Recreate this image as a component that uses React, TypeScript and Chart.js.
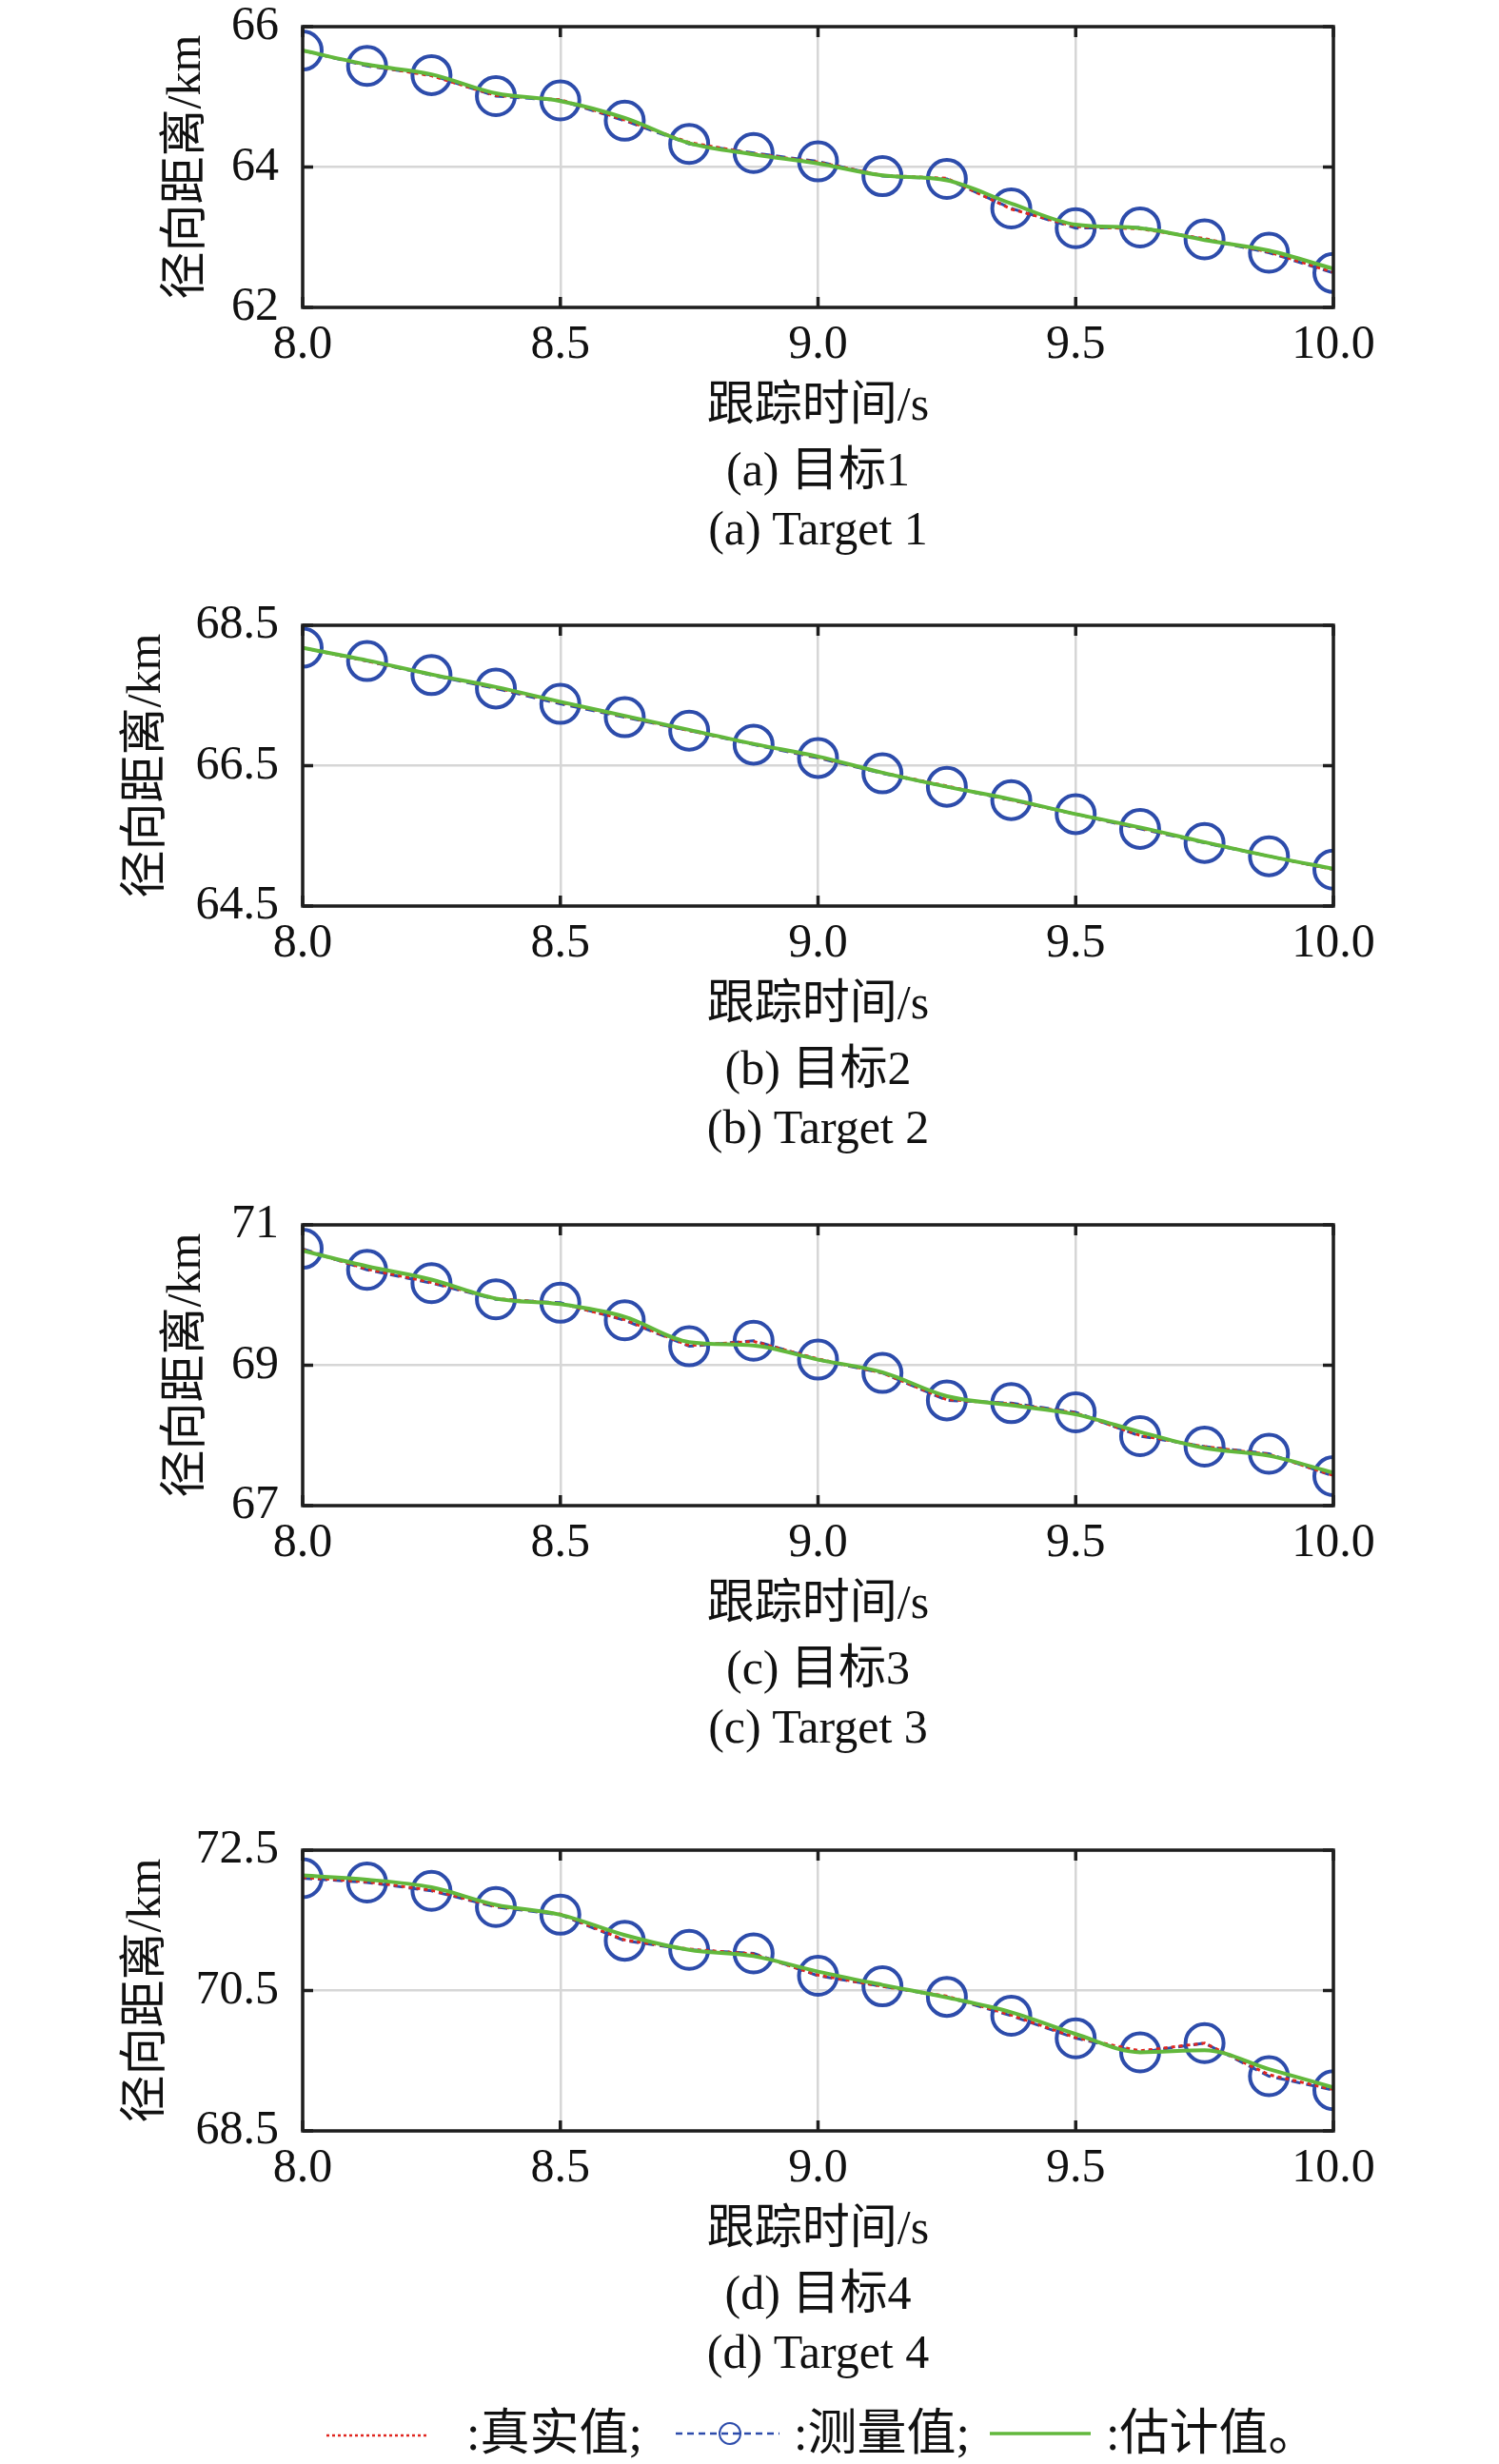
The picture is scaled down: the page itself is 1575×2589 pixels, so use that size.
import { useEffect, useRef } from "react";
import { Chart, registerables } from "chart.js";

Chart.register(...registerables);

// sample times (s)
const times = [8.0, 8.125, 8.25, 8.375, 8.5, 8.625, 8.75, 8.875, 9.0, 9.125, 9.25, 9.375, 9.5, 9.625, 9.75, 9.875, 10.0];

// target 1
const true1 = [65.66, 65.45, 65.30, 65.02, 64.96, 64.67, 64.35, 64.19, 64.07, 63.88, 63.84, 63.40, 63.15, 63.12, 62.98, 62.79, 62.50];
const meas1 = [65.66, 65.44, 65.31, 65.01, 64.95, 64.66, 64.33, 64.20, 64.08, 63.87, 63.83, 63.41, 63.13, 63.14, 62.97, 62.78, 62.49];
const est1 = [65.66, 65.46, 65.32, 65.05, 64.94, 64.70, 64.34, 64.18, 64.05, 63.88, 63.81, 63.48, 63.18, 63.13, 62.96, 62.81, 62.55];

// target 2
const true2 = [68.18, 67.99, 67.80, 67.61, 67.40, 67.20, 67.00, 66.81, 66.62, 66.40, 66.21, 66.01, 65.81, 65.61, 65.41, 65.21, 65.02];
const meas2 = [68.18, 67.99, 67.79, 67.60, 67.38, 67.19, 67.00, 66.80, 66.61, 66.39, 66.20, 66.01, 65.81, 65.60, 65.40, 65.21, 65.02];
const est2 = [68.18, 68.00, 67.80, 67.62, 67.41, 67.21, 67.01, 66.81, 66.63, 66.40, 66.20, 66.02, 65.81, 65.62, 65.41, 65.21, 65.03];

// target 3
const true3 = [70.65, 70.37, 70.18, 69.95, 69.88, 69.65, 69.28, 69.34, 69.09, 68.89, 68.51, 68.45, 68.32, 68.00, 67.84, 67.73, 67.43];
const meas3 = [70.66, 70.36, 70.17, 69.94, 69.89, 69.64, 69.27, 69.35, 69.08, 68.89, 68.50, 68.46, 68.33, 67.99, 67.84, 67.74, 67.42];
const est3 = [70.63, 70.41, 70.22, 69.95, 69.87, 69.69, 69.33, 69.28, 69.08, 68.90, 68.56, 68.43, 68.30, 68.05, 67.82, 67.71, 67.47];

// target 4
const true4 = [72.11, 72.05, 71.93, 71.70, 71.59, 71.22, 71.09, 71.02, 70.72, 70.56, 70.42, 70.15, 69.83, 69.64, 69.75, 69.30, 69.09];
const meas4 = [72.10, 72.04, 71.92, 71.69, 71.58, 71.21, 71.08, 71.03, 70.71, 70.56, 70.41, 70.14, 69.82, 69.62, 69.75, 69.28, 69.08];
const est4 = [72.14, 72.08, 71.97, 71.72, 71.58, 71.29, 71.08, 70.99, 70.77, 70.58, 70.40, 70.19, 69.88, 69.62, 69.65, 69.38, 69.12];

// y ranges [min, max]
const yRanges = [
  [62, 66],
  [64.5, 68.5],
  [67, 71],
  [68.5, 72.5],
];
const yStep = 2;
const xMin = 8;
const xMax = 10;
const xStep = 0.5;

const xTitle = "跟踪时间/s";
const yTitle = "径向距离/km";
const captionsCn = ["(a) 目标1", "(b) 目标2", "(c) 目标3", "(d) 目标4"];
const captionsEn = ["(a) Target 1", "(b) Target 2", "(c) Target 3", "(d) Target 4"];
const legendLabels = [":真实值;", ":测量值;", ":估计值。"];

const series = [
  { t: true1, m: meas1, e: est1 },
  { t: true2, m: meas2, e: est2 },
  { t: true3, m: meas3, e: est3 },
  { t: true4, m: meas4, e: est4 },
];

// layout
const W = 1575;
const PLOT_LEFT = 318;
const PLOT_RIGHT = 1401;
const PLOT_H = 295;
const TOP_PAD = 40;
const X_AXIS_H = 135;
const CANVAS_H = TOP_PAD + PLOT_H + X_AXIS_H;
const panelTops = [28, 657, 1287, 1944];
const yTitleCenters = [197, 155, 197, 155];

const FONT = '"Liberation Serif", "Noto Sans CJK SC", serif';
const RED = "#e0261f";
const BLUE = "#2d4cab";
const GREEN = "#62b83c";

const framePlugin = {
  id: "frame",
  afterDatasetsDraw(chart: any) {
    const { ctx, chartArea: a, scales } = chart;
    ctx.save();
    ctx.strokeStyle = "#1e1e1e";
    ctx.lineWidth = 3.5;
    const seg = (x1: number, y1: number, x2: number, y2: number) => {
      ctx.beginPath();
      ctx.moveTo(x1, y1);
      ctx.lineTo(x2, y2);
      ctx.stroke();
    };
    scales.x.ticks.forEach((t: any) => {
      const px = scales.x.getPixelForValue(t.value);
      seg(px, a.bottom, px, a.bottom - 11);
      seg(px, a.top, px, a.top + 11);
    });
    scales.y.ticks.forEach((t: any) => {
      const py = scales.y.getPixelForValue(t.value);
      seg(a.left, py, a.left + 11, py);
      seg(a.right, py, a.right - 11, py);
    });
    ctx.lineWidth = 3.5;
    ctx.strokeRect(a.left, a.top, a.right - a.left, a.bottom - a.top);
    ctx.restore();
  },
};

function Panel({ index }: { index: number }) {
  const chartRef = useRef<HTMLCanvasElement>(null);
  const chartInstance = useRef<Chart | null>(null);
  const top = panelTops[index];
  const s = series[index];
  const [yMin, yMax] = yRanges[index];

  useEffect(() => {
    if (!chartRef.current) return;
    if (chartInstance.current) chartInstance.current.destroy();
    const ctx = chartRef.current.getContext("2d");
    if (!ctx) return;

    const toPts = (arr: number[]) => arr.map((v, i) => ({ x: times[i], y: v }));

    chartInstance.current = new Chart(ctx, {
      type: "line",
      data: {
        datasets: [
          {
            label: "估计值",
            data: toPts(s.e),
            borderColor: GREEN,
            borderWidth: 4,
            pointRadius: 0,
            cubicInterpolationMode: "monotone",
            clip: 0,
            order: 0,
          },
          {
            label: "真实值",
            data: toPts(s.t),
            borderColor: RED,
            borderWidth: 3,
            borderDash: [4, 4],
            pointRadius: 0,
            tension: 0,
            clip: 0,
            order: 1,
          },
          {
            label: "测量值",
            data: toPts(s.m),
            borderColor: BLUE,
            borderWidth: 3,
            borderDash: [10, 6],
            pointRadius: 20,
            pointBorderWidth: 4,
            pointBorderColor: BLUE,
            pointBackgroundColor: "rgba(0,0,0,0)",
            tension: 0,
            clip: 0,
            order: 2,
          },
        ] as any,
      },
      options: {
        responsive: false,
        animation: false,
        devicePixelRatio: 1,
        layout: { padding: { top: TOP_PAD, right: W - PLOT_RIGHT, bottom: 0, left: 0 } },
        plugins: { legend: { display: false }, tooltip: { enabled: false } },
        scales: {
          x: {
            type: "linear",
            min: xMin,
            max: xMax,
            afterBuildTicks: (scale: any) => {
              const ticks = [];
              for (let v = xMin; v <= xMax + 1e-9; v += xStep) ticks.push({ value: v });
              scale.ticks = ticks;
            },
            afterFit: (scale: any) => {
              scale.height = X_AXIS_H;
              scale.paddingLeft = 0;
              scale.paddingRight = 0;
            },
            grid: { color: "#d6d6d6", lineWidth: 2.5, drawTicks: false },
            border: { display: false },
            ticks: {
              padding: 10,
              color: "#111",
              font: { family: FONT, size: 50 },
              maxRotation: 0,
              callback: (v: any) => Number(v).toFixed(1),
            },
            title: {
              display: true,
              text: xTitle,
              color: "#111",
              font: { family: FONT, size: 50 },
              padding: { top: 0, bottom: 0 },
            },
          },
          y: {
            type: "linear",
            min: yMin,
            max: yMax,
            afterBuildTicks: (scale: any) => {
              const ticks = [];
              for (let v = yMin; v <= yMax + 1e-9; v += yStep) ticks.push({ value: v });
              scale.ticks = ticks;
            },
            afterFit: (scale: any) => {
              scale.width = PLOT_LEFT;
              scale.paddingTop = 0;
              scale.paddingBottom = 0;
            },
            grid: { color: "#d6d6d6", lineWidth: 2.5, drawTicks: false },
            border: { display: false },
            ticks: {
              padding: 25,
              color: "#111",
              font: { family: FONT, size: 50 },
              callback: (v: any) => String(Number(v)),
            },
            title: {
              display: true,
              text: yTitle,
              color: "#111",
              font: { family: FONT, size: 50 },
              padding: { top: yTitleCenters[index] - 30, bottom: 0 },
            },
          },
        },
      },
      plugins: [framePlugin],
    });

    return () => {
      if (chartInstance.current) {
        chartInstance.current.destroy();
        chartInstance.current = null;
      }
    };
  }, [index]);

  const bottom = top + PLOT_H;
  const captionStyle = (center: number): any => ({
    position: "absolute",
    left: PLOT_LEFT,
    width: PLOT_RIGHT - PLOT_LEFT,
    top: center - 30,
    height: 60,
    lineHeight: "60px",
    textAlign: "center",
    fontFamily: FONT,
    fontSize: 50,
    color: "#111",
    whiteSpace: "nowrap",
  });

  return (
    <>
      <canvas
        ref={chartRef}
        width={W}
        height={CANVAS_H}
        style={{ position: "absolute", left: 0, top: top - TOP_PAD, width: W, height: CANVAS_H }}
      ></canvas>
      <div style={captionStyle(bottom + 170)}>{captionsCn[index]}</div>
      <div style={captionStyle(bottom + 232)}>{captionsEn[index]}</div>
    </>
  );
}

function Legend() {
  const y = 2557;
  const text = (left: number, label: string): any => (
    <div
      style={{
        position: "absolute",
        left,
        top: y - 30,
        height: 60,
        lineHeight: "60px",
        fontFamily: FONT,
        fontSize: 52,
        color: "#111",
        whiteSpace: "nowrap",
      }}
    >
      {label}
    </div>
  );
  return (
    <>
      <svg style={{ position: "absolute", left: 0, top: y - 20, overflow: "visible" }} width={W} height={40}>
        <line x1={343} y1={22} x2={449} y2={22} stroke={RED} strokeWidth={2.5} strokeDasharray="3 3" />
        <line x1={710} y1={20} x2={819} y2={20} stroke={BLUE} strokeWidth={2.5} strokeDasharray="7 5" />
        <circle cx={767} cy={20} r={11} fill="none" stroke={BLUE} strokeWidth={2} />
        <line x1={1040} y1={20} x2={1146} y2={20} stroke={GREEN} strokeWidth={3.5} />
      </svg>
      {text(490, legendLabels[0])}
      {text(834, legendLabels[1])}
      {text(1162, legendLabels[2])}
    </>
  );
}

export default function App() {
  return (
    <div style={{ position: "absolute", left: 0, top: 0, width: W, height: 2589, background: "#fff", overflow: "hidden" }}>
      {panelTops.map((_, i) => (
        <Panel key={i} index={i} />
      ))}
      <Legend />
    </div>
  );
}
